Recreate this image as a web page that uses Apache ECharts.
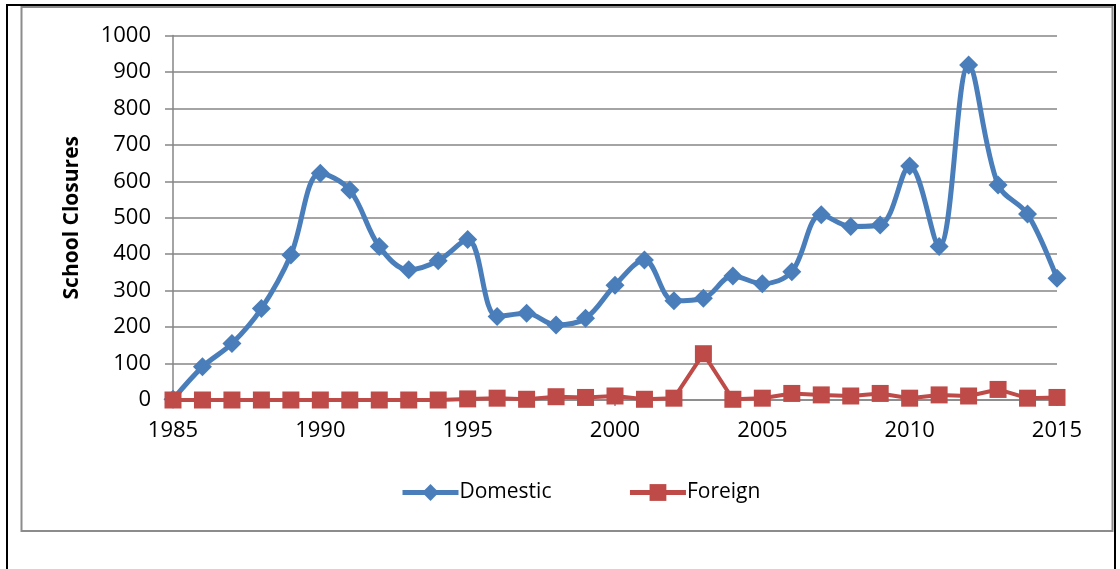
<!DOCTYPE html>
<html>
<head>
<meta charset="utf-8">
<script src="https://cdn.jsdelivr.net/npm/echarts@6/dist/echarts.min.js"></script>
<style>
html,body{margin:0;padding:0;background:#fff;}
#chart{width:1120px;height:569px;}
</style>
</head>
<body>
<div id="chart"></div>
<script>
const years = [1985,1986,1987,1988,1989,1990,1991,1992,1993,1994,1995,1996,1997,1998,1999,2000,2001,2002,2003,2004,2005,2006,2007,2008,2009,2010,2011,2012,2013,2014,2015];
const domestic = [2,91,155,251,398,622,576,421,357,382,440,229,238,206,224,315,384,272,279,340,319,352,508,476,480,642,421,919,590,510,334];
const foreign = [0,0,0,0,0,0,0,0,0,0,3,5,2,9,7,11,2,5,127,2,5,18,14,11,18,5,14,11,29,5,7];
const yTicks = [0,100,200,300,400,500,600,700,800,900,1000];
const xTicks = [1985,1990,1995,2000,2005,2010,2015];

const FONT = 'Open Sans';
const GRID = '#868686';
const BLUE = '#4A7EBB';
const RED = '#BE4B48';

const chart = echarts.init(document.getElementById('chart'), null, {renderer:'canvas'});
chart.setOption({
  animation: false,
  backgroundColor: '#fff',
  textStyle: {fontFamily: FONT},
  graphic: [
    {type:'rect', z:-10, shape:{x:7, y:5, width:1108, height:600}, style:{fill:'#fff', stroke:'#000', lineWidth:2}},
    {type:'rect', z:-9, shape:{x:21.5, y:7, width:1091, height:524}, style:{fill:'#fff', stroke:'#8c8c8c', lineWidth:2}}
  ],
  grid: {left:173, right:63, top:35.5, bottom:169, containLabel:false},
  legend: {
    left: 395, top: 477,
    itemWidth: 56, itemHeight: 21, itemGap: 76,
    lineStyle: {width: 5},
    textStyle: {fontFamily: FONT, fontSize: 21, color:'#000', padding:[0,0,0,-4]},
    data: ['Domestic','Foreign']
  },
  xAxis: {
    type: 'value', min: 1985, max: 2015, interval: 5,
    axisLine: {show:true, lineStyle:{color:GRID, width:1.5}},
    axisTick: {show:true, length:6, lineStyle:{color:GRID, width:1.5}},
    splitLine: {show:false},
    axisLabel: {fontFamily: FONT, fontSize: 22, color:'#000', margin: 20,
      formatter: v => xTicks.includes(v) ? String(v) : ''}
  },
  yAxis: {
    type: 'value', min: 0, max: 1000, interval: 100,
    name: 'School Closures', nameLocation: 'middle', nameGap: 90,
    nameTextStyle: {fontFamily: FONT, fontSize: 21, fontWeight:'bold', color:'#000'},
    axisLine: {show:true, lineStyle:{color:GRID, width:1.5}},
    axisTick: {show:true, length:8, lineStyle:{color:GRID, width:1.5}},
    splitLine: {show:true, lineStyle:{color:GRID, width:1.5}},
    axisLabel: {fontFamily: FONT, fontSize: 22, color:'#000', margin: 22,
      formatter: v => yTicks.includes(v) ? String(v) : ''}
  },
  series: [
    {
      name: 'Domestic', type: 'line', smooth: 0.35,
      data: years.map((y,i)=>[y, domestic[i]]),
      symbol: 'diamond', symbolSize: 19,
      lineStyle: {color: BLUE, width: 5},
      itemStyle: {color: BLUE},
      z: 2
    },
    {
      name: 'Foreign', type: 'line', smooth: false,
      data: years.map((y,i)=>[y, foreign[i]]),
      symbol: 'rect', symbolSize: 17,
      lineStyle: {color: RED, width: 4},
      itemStyle: {color: RED},
      z: 3
    }
  ]
});
</script>
</body>
</html>
